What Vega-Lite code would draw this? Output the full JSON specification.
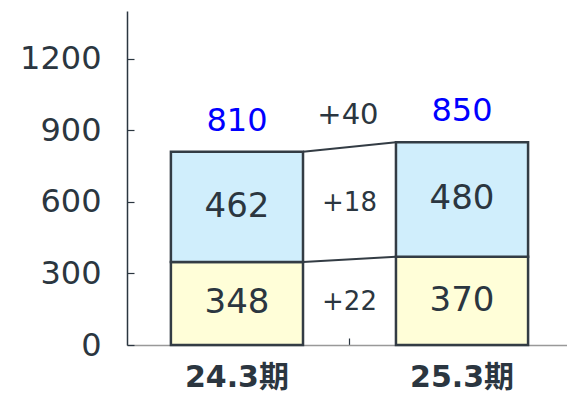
{
  "$schema": "https://vega.github.io/schema/vega-lite/v6.json",
  "autosize": {"type": "none"},
  "padding": {"left": 127, "top": 11, "right": 0, "bottom": 50},
  "width": 440,
  "height": 334,
  "config": {
    "view": {"stroke": null},
    "font": "DejaVu Sans, Noto Sans CJK JP",
    "text": {"font": "DejaVu Sans, Noto Sans CJK JP", "color": "#2b3640"}
  },
  "datasets": {
    "bars": [
      {"period": "24.3期", "part": "下", "order": 1, "value": 348},
      {"period": "24.3期", "part": "上", "order": 2, "value": 462},
      {"period": "25.3期", "part": "下", "order": 1, "value": 370},
      {"period": "25.3期", "part": "上", "order": 2, "value": 480}
    ],
    "links": [
      {"from": "24.3期", "to": "25.3期", "start": 348, "end": 370},
      {"from": "24.3期", "to": "25.3期", "start": 810, "end": 850}
    ],
    "diffs": [
      {"from": "24.3期", "label": "+18", "level": 594.5},
      {"from": "24.3期", "label": "+22", "level": 179.5}
    ],
    "totaldiff": [
      {"from": "24.3期", "label": "+40", "level": 830}
    ]
  },
  "layer": [
    {
      "data": {"name": "bars"},
      "mark": {"type": "bar", "stroke": "#333c44", "strokeWidth": 2.5},
      "encoding": {
        "x": {
          "field": "period", "type": "nominal", "sort": null,
          "scale": {"paddingInner": 0.413, "paddingOuter": 0.184, "align": 0.53},
          "axis": {
            "title": null, "labelAngle": 0, "labelFontSize": 30, "labelFontWeight": "bold",
            "labelColor": "#2b3640", "labelPadding": 24, "domainColor": "#999999", "domainWidth": 1.5,
            "ticks": true, "bandPosition": 1.352, "tickSize": -7, "tickColor": "#2b3640", "tickWidth": 1.2
          }
        },
        "y": {
          "field": "value", "type": "quantitative", "stack": "zero",
          "scale": {"domain": [0, 1400], "nice": false},
          "axis": {
            "title": null, "values": [0, 300, 600, 900, 1200], "format": "d", "grid": false,
            "labelFontSize": 32, "labelFontWeight": "normal", "labelColor": "#2b3640",
            "labelPadding": 33, "domainColor": "#2b3640", "domainWidth": 1.5,
            "tickSize": -7, "tickColor": "#2b3640", "tickWidth": 1.2
          }
        },
        "color": {
          "field": "part", "type": "nominal",
          "scale": {"domain": ["下", "上"], "range": ["#fffed8", "#d0eefc"]},
          "legend": null
        },
        "order": {"field": "order", "type": "quantitative"}
      }
    },
    {
      "data": {"name": "bars"},
      "mark": {"type": "text", "fontSize": 34, "baseline": "middle"},
      "encoding": {
        "x": {"field": "period", "type": "nominal", "sort": null},
        "y": {"field": "value", "type": "quantitative", "stack": "zero", "bandPosition": 0.5},
        "detail": {"field": "part"},
        "order": {"field": "order", "type": "quantitative"},
        "text": {"field": "value", "type": "quantitative"}
      }
    },
    {
      "data": {"name": "bars"},
      "transform": [{"aggregate": [{"op": "sum", "field": "value", "as": "total"}], "groupby": ["period"]}],
      "mark": {"type": "text", "fontSize": 32, "baseline": "middle", "color": "#0000ff", "dy": -31},
      "encoding": {
        "x": {"field": "period", "type": "nominal", "sort": null},
        "y": {"field": "total", "type": "quantitative"},
        "text": {"field": "total", "type": "quantitative"}
      }
    },
    {
      "data": {"name": "links"},
      "mark": {"type": "rule", "stroke": "#333c44", "strokeWidth": 2},
      "encoding": {
        "x": {"field": "from", "type": "nominal", "bandPosition": 1},
        "x2": {"field": "to", "bandPosition": 0},
        "y": {"field": "start", "type": "quantitative"},
        "y2": {"field": "end"}
      }
    },
    {
      "data": {"name": "diffs"},
      "mark": {"type": "text", "baseline": "middle", "fontSize": 26},
      "encoding": {
        "x": {"field": "from", "type": "nominal", "bandPosition": 1.352},
        "y": {"field": "level", "type": "quantitative"},
        "text": {"field": "label"}
      }
    },
    {
      "data": {"name": "totaldiff"},
      "mark": {"type": "text", "baseline": "middle", "fontSize": 29, "dy": -32},
      "encoding": {
        "x": {"field": "from", "type": "nominal", "bandPosition": 1.34},
        "y": {"field": "level", "type": "quantitative"},
        "text": {"field": "label"}
      }
    }
  ]
}
